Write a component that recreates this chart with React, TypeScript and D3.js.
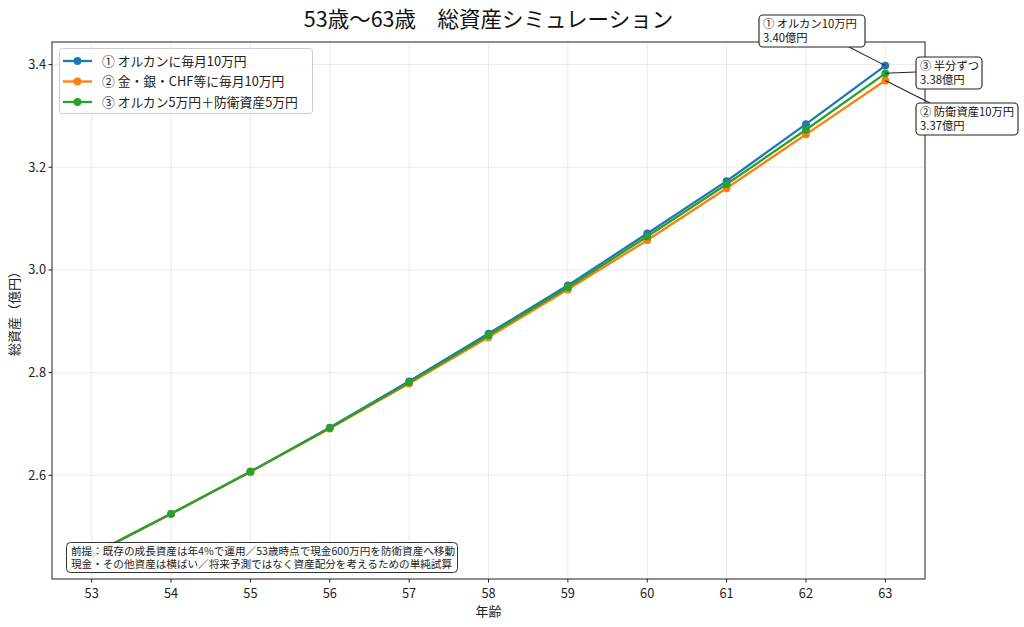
import React from "react";
import { scaleLinear, line } from "d3";

// ages and total assets (億円)
const ages = [53, 54, 55, 56, 57, 58, 59, 60, 61, 62, 63];
const orkan = [2.445, 2.525, 2.607, 2.693, 2.783, 2.876, 2.970, 3.071, 3.173, 3.284, 3.398];
const defensive = [2.445, 2.525, 2.607, 2.691, 2.779, 2.869, 2.962, 3.058, 3.159, 3.264, 3.369];
const half = [2.445, 2.525, 2.607, 2.692, 2.781, 2.873, 2.966, 3.065, 3.167, 3.273, 3.383];

const seriesNames = [
  "① オルカンに毎月10万円",
  "② 金・銀・CHF等に毎月10万円",
  "③ オルカン5万円＋防衛資産5万円",
];
const yTicks = [2.6, 2.8, 3.0, 3.2, 3.4];
const noteLines = [
  "前提：既存の成長資産は年4%で運用／53歳時点で現金600万円を防衛資産へ移動",
  "現金・その他資産は横ばい／将来予測ではなく資産配分を考えるための単純試算",
];

const W = 1024;
const H = 627;
const FONT = "'Noto Sans CJK JP', 'Noto Sans', sans-serif";
const colors = ["#1f77b4", "#ff7f0e", "#2ca02c"];

export default function App() {
  const m = { left: 52, right: 925, top: 42, bottom: 579 };
  const x = scaleLinear().domain([52.5, 63.5]).range([m.left, m.right]);
  const y = scaleLinear().domain([2.398, 3.444]).range([m.bottom, m.top]);

  const series = [orkan, defensive, half];
  const path = line<number>()
    .x((_, i) => x(ages[i]))
    .y((d) => y(d));

  const last = ages.length - 1;
  const ax = x(ages[last]);

  // annotation boxes: text, box, connector start
  const annots = [
    { lines: ["① オルカン10万円", orkan[last].toFixed(2) + "億円"], bx: 759, by: 15, bw: 106, bh: 32, lx: 849, ly: 47, v: orkan[last] },
    { lines: ["③ 半分ずつ", half[last].toFixed(2) + "億円"], bx: 916, by: 57, bw: 66, bh: 32, lx: 916, ly: 72, v: half[last] },
    { lines: ["② 防衛資産10万円", defensive[last].toFixed(2) + "億円"], bx: 916, by: 103, bw: 102, bh: 32, lx: 930, ly: 103, v: defensive[last] },
  ];

  return (
    <svg
      width={W}
      height={H}
      style={{ position: "absolute", left: 0, top: 0, display: "block", background: "#fff" }}
      fontFamily={FONT}
    >
      <rect width={W} height={H} fill="#fff" />
      <text x={(m.left + m.right) / 2} y={27} textAnchor="middle" fontSize={21.5} fill="#111">
        53歳〜63歳　総資産シミュレーション
      </text>

      {/* grid */}
      <g stroke="#b0b0b0" strokeOpacity={0.3} strokeWidth={0.8}>
        {ages.map((a) => (
          <line key={"gx" + a} x1={x(a)} x2={x(a)} y1={m.top} y2={m.bottom} />
        ))}
        {yTicks.map((t) => (
          <line key={"gy" + t} x1={m.left} x2={m.right} y1={y(t)} y2={y(t)} />
        ))}
      </g>

      {/* series */}
      {series.map((s, k) => (
        <g key={"s" + k}>
          <path d={path(s) || ""} fill="none" stroke={colors[k]} strokeWidth={2.3} />
          {s.map((v, i) => (
            <circle key={i} cx={x(ages[i])} cy={y(v)} r={3.9} fill={colors[k]} />
          ))}
        </g>
      ))}

      {/* axes frame */}
      <rect x={m.left} y={m.top} width={m.right - m.left} height={m.bottom - m.top} fill="none" stroke="#222" strokeWidth={1} />

      {/* x ticks */}
      {ages.map((a) => (
        <g key={"xt" + a}>
          <line x1={x(a)} x2={x(a)} y1={m.bottom} y2={m.bottom + 3.5} stroke="#222" />
          <text x={x(a)} y={598} textAnchor="middle" fontSize={12.8} fill="#222">
            {a}
          </text>
        </g>
      ))}
      {/* y ticks */}
      {yTicks.map((t) => (
        <g key={"yt" + t}>
          <line x1={m.left - 3.5} x2={m.left} y1={y(t)} y2={y(t)} stroke="#222" />
          <text x={m.left - 6} y={y(t) + 4.5} textAnchor="end" fontSize={12.8} fill="#222">
            {t.toFixed(1)}
          </text>
        </g>
      ))}
      <text x={(m.left + m.right) / 2} y={616} textAnchor="middle" fontSize={13} fill="#222">
        年齢
      </text>
      <text
        transform={`translate(19, ${(m.top + m.bottom) / 2}) rotate(-90)`}
        textAnchor="middle"
        fontSize={13}
        fill="#222"
      >
        総資産（億円）
      </text>

      {/* legend */}
      <rect x={59.5} y={48.5} width={253} height={65} rx={3} fill="#fff" fillOpacity={0.8} stroke="#ccc" />
      {seriesNames.map((n, k) => {
        const ly = 61 + k * 20.5;
        return (
          <g key={"lg" + k}>
            <line x1={63} x2={92} y1={ly} y2={ly} stroke={colors[k]} strokeWidth={2.3} />
            <circle cx={77.5} cy={ly} r={3.9} fill={colors[k]} />
            <text x={102} y={ly + 4.5} fontSize={12.8} fill="#222">
              {n}
            </text>
          </g>
        );
      })}

      {/* annotations */}
      {annots.map((a, k) => (
        <g key={"an" + k}>
          <line x1={a.lx} y1={a.ly} x2={ax} y2={y(a.v)} stroke="#222" strokeWidth={1.1} />
          <rect x={a.bx} y={a.by} width={a.bw} height={a.bh} rx={4} fill="#fff" stroke="#222" strokeWidth={1.1} />
          {a.lines.map((t, j) => (
            <text key={j} x={a.bx + 4} y={a.by + 13 + j * 13.5} fontSize={11.3} fill="#111">
              {t}
            </text>
          ))}
        </g>
      ))}

      {/* note */}
      <rect x={66.5} y={542.5} width={391} height={30} rx={4} fill="#fff" fillOpacity={0.88} stroke="#333" strokeWidth={1} />
      {noteLines.map((t, j) => (
        <text key={"nt" + j} x={71} y={555 + j * 13} fontSize={10.6} fill="#222">
          {t}
        </text>
      ))}
    </svg>
  );
}
